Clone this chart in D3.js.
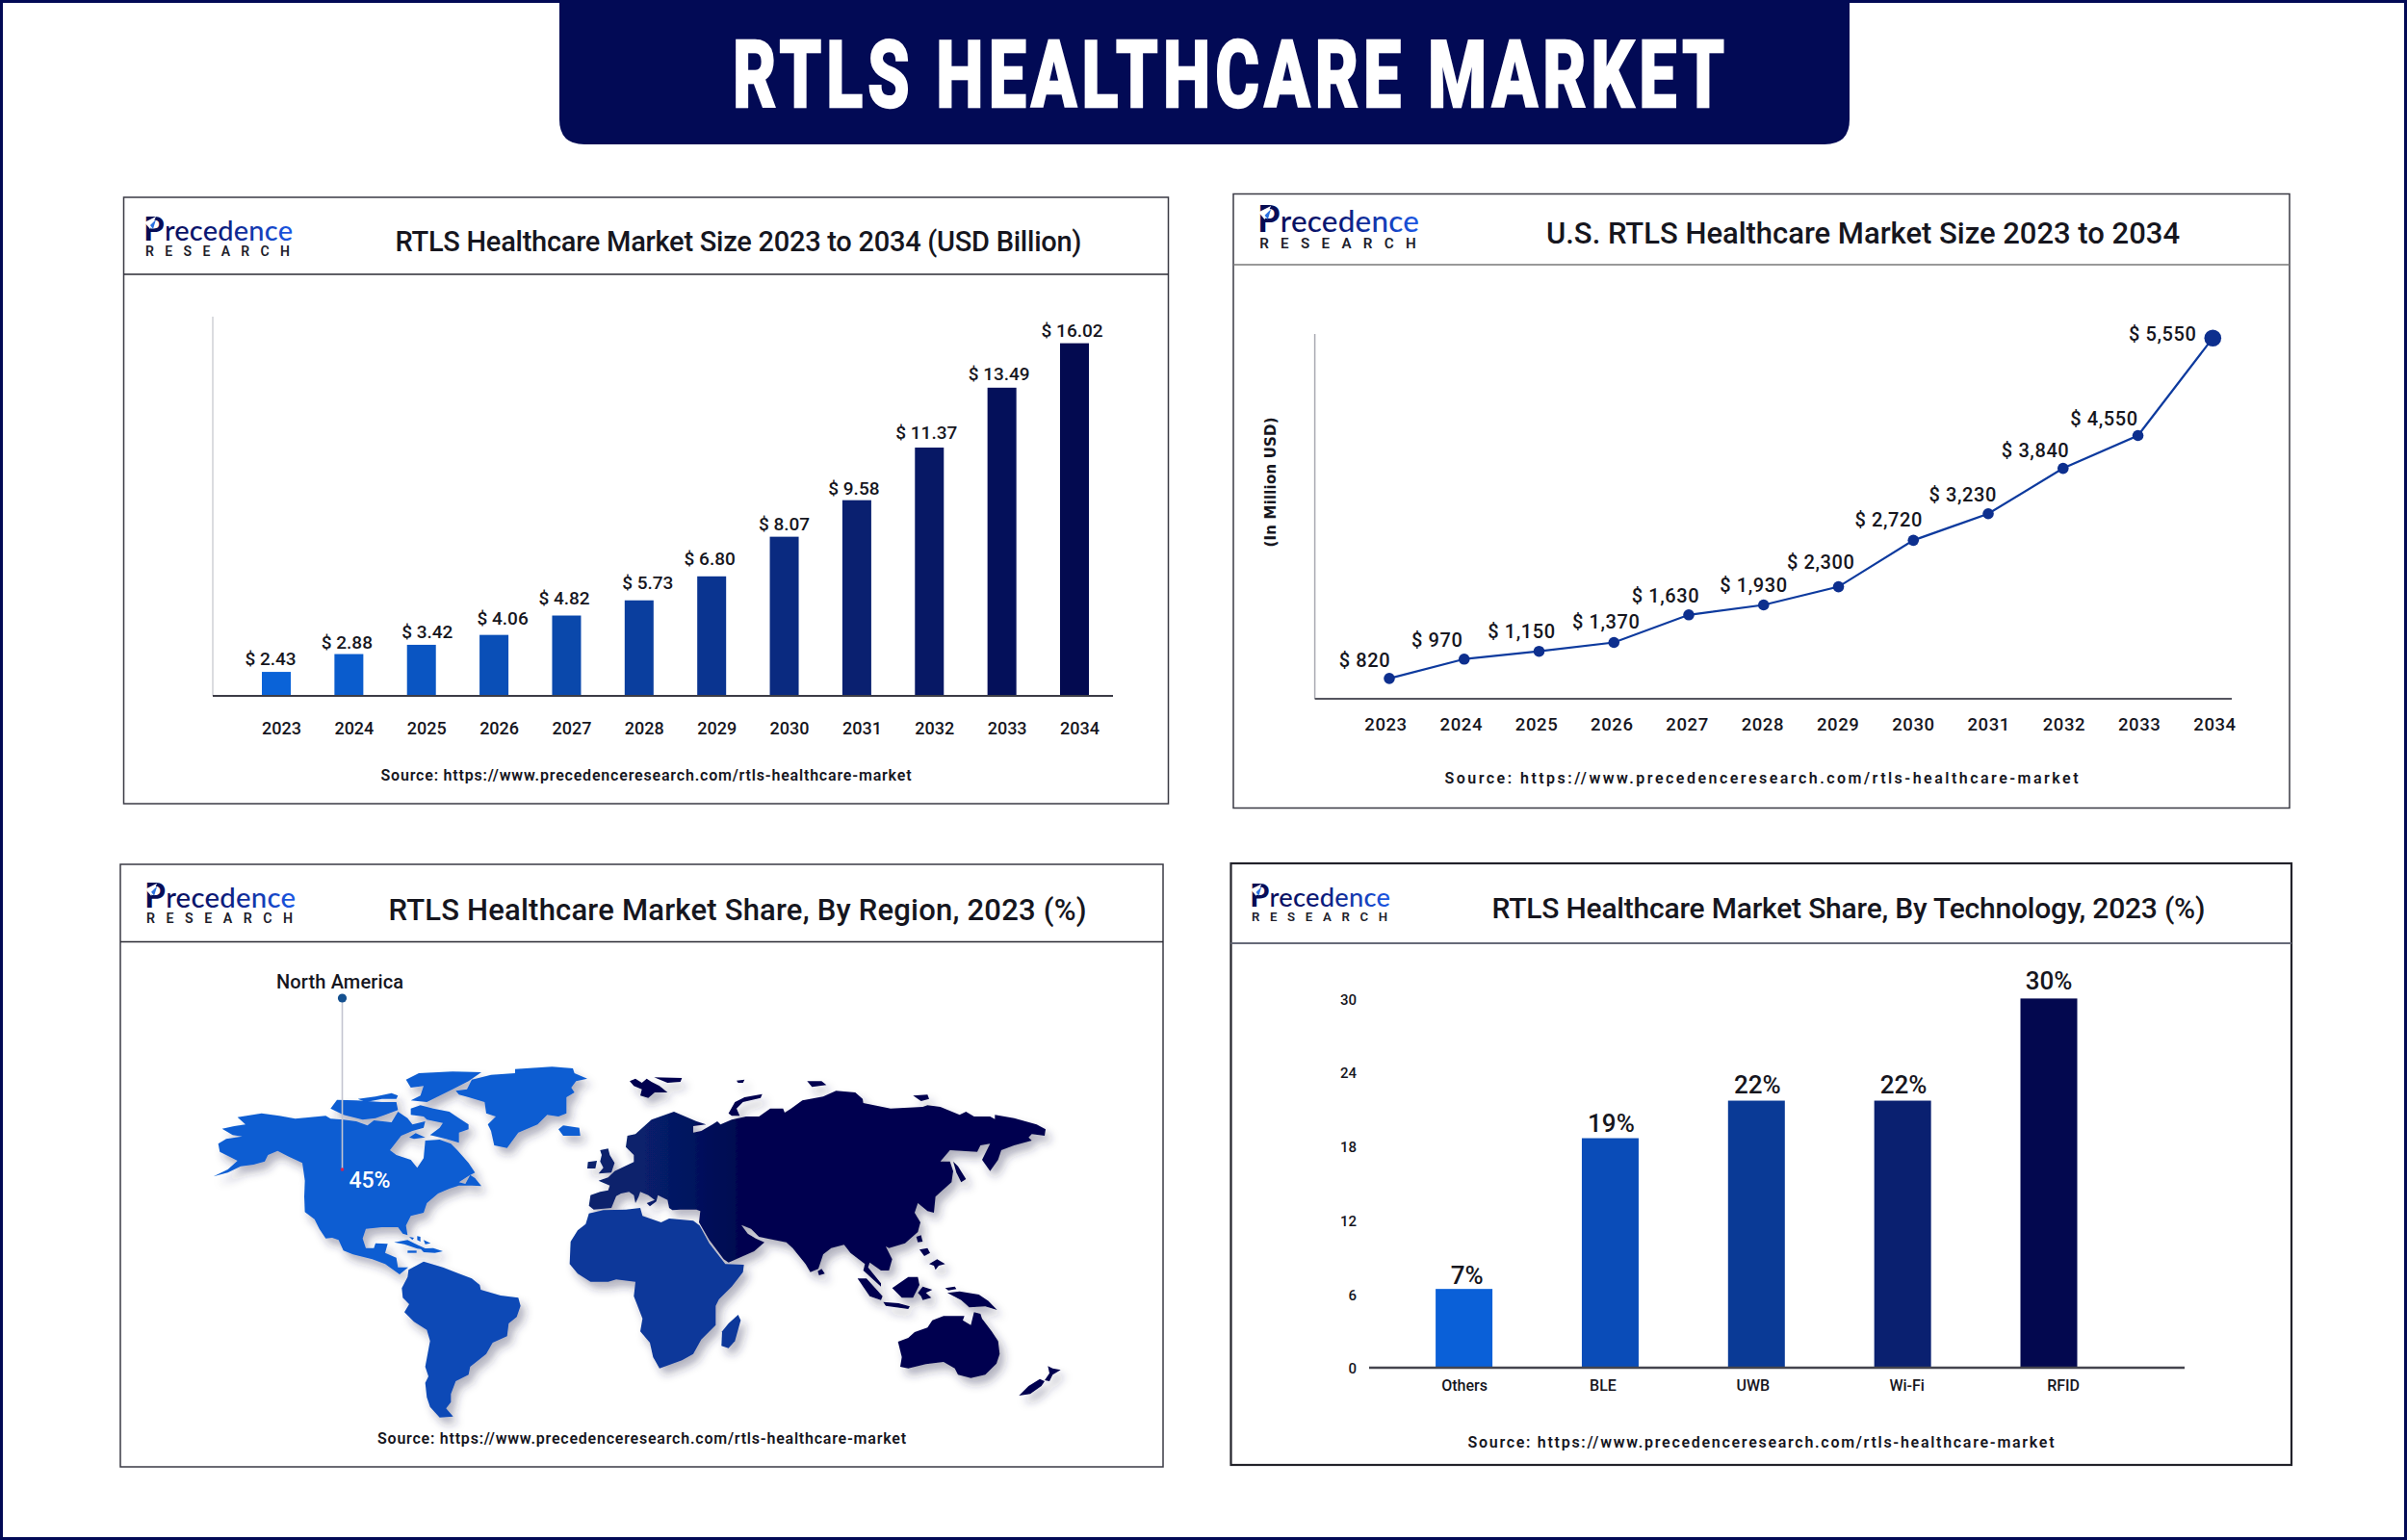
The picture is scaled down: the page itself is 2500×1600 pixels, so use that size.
<!DOCTYPE html>
<html><head><meta charset="utf-8">
<script src="https://cdn.jsdelivr.net/npm/d3@7"></script>
<style>
html,body{margin:0;padding:0;background:#fff}
svg{display:block}
text{font-family:Roboto,Inter,sans-serif;fill:#16161e}
</style></head><body>
<svg id="chart" width="2500" height="1600" viewBox="0 0 2500 1600"></svg>
<script>
// ---------- text ----------
const mainTitle = "RTLS HEALTHCARE MARKET";
const sourceText = "Source: https://www.precedenceresearch.com/rtls-healthcare-market";
const panelTitles = ["RTLS Healthcare Market Size 2023 to 2034 (USD Billion)", "U.S. RTLS Healthcare Market Size 2023 to 2034", "RTLS Healthcare Market Share, By Region, 2023 (%)", "RTLS Healthcare Market Share, By Technology, 2023 (%)"];

// ---------- panel 1: labelled values, and the bar lengths as the picture draws them
// (the reference's bars are not proportional to their printed labels) ----------
const years = [2023,2024,2025,2026,2027,2028,2029,2030,2031,2032,2033,2034];
const marketSizeLabelled = [2.43,2.88,3.42,4.06,4.82,5.73,6.80,8.07,9.58,11.37,13.49,16.02];
const marketSizeDrawn = [1.09,1.90,2.32,2.77,3.65,4.34,5.43,7.23,8.89,11.28,14.0,16.02];

// ---------- panel 2: same idea ----------
const usSizeLabelled = [820,970,1150,1370,1630,1930,2300,2720,3230,3840,4550,5550];
const usSizeDrawn = [313,610,730,866,1291,1444,1724,2438,2847,3545,4050,5550];

// ---------- panel 4 ----------
const techCategories = ["Others","BLE","UWB","Wi-Fi","RFID"];
const techLabelled = [7,19,22,22,30];
const techDrawn = [6.4,18.65,21.7,21.7,30];
const techTicks = [0,6,12,18,24,30];

// ---------- panel 3: region label and coastlines ----------
const regionName = "North America";
const regionShare = 45;
const northAmerica = [[35,367],[80,345],[110,318],[85,305],[55,290],[50,265],[75,250],[125,242],[95,238],[62,218],[100,210],[135,205],[110,182],[185,170],[240,178],[290,187],[330,183],[385,178],[400,187],[440,190],[480,195],[515,208],[535,192],[590,198],[610,165],[640,185],[655,205],[695,195],[690,215],[655,225],[620,240],[585,285],[605,300],[650,315],[670,340],[690,310],[695,255],[740,252],[775,265],[795,285],[830,325],[850,355],[830,365],[800,385],[820,390],[835,362],[850,372],[870,397],[840,395],[800,395],[770,405],[735,420],[700,450],[690,480],[650,490],[635,520],[640,550],[625,545],[610,525],[560,525],[510,530],[500,560],[510,590],[535,590],[540,575],[578,577],[570,605],[605,620],[610,650],[642,650],[615,672],[570,640],[530,625],[470,610],[440,598],[425,565],[405,558],[385,560],[365,530],[350,500],[320,478],[318,430],[320,380],[312,325],[270,305],[235,287],[205,300],[195,320],[160,330],[120,335],[80,355]];
const northIslands = [
 [[400,155],[420,128],[480,130],[560,135],[605,135],[610,160],[570,175],[540,185],[500,190],[440,175]],
 [[485,125],[540,118],[590,107],[610,115],[605,125],[560,125],[510,135]],
 [[650,155],[680,145],[720,155],[770,165],[800,185],[830,205],[830,220],[800,230],[800,262],[760,250],[710,238],[740,215],[750,200],[700,190],[690,180],[650,175]],
 [[635,65],[675,45],[780,40],[870,42],[830,70],[780,95],[730,120],[700,135],[650,130],[680,115],[690,85],[650,90]],
 [[975,32],[1090,25],[1155,30],[1160,45],[1200,62],[1165,70],[1150,90],[1160,105],[1135,120],[1135,170],[1110,180],[1075,175],[1045,205],[985,230],[950,278],[910,270],[900,225],[890,205],[915,180],[885,170],[880,135],[830,120],[800,112],[790,100],[825,95],[840,65],[900,50],[975,45]],
 [[1110,220],[1125,208],[1175,215],[1178,240],[1125,240]],
 [[598,572],[640,565],[670,580],[710,598],[670,592],[630,578]],
 [[640,598],[668,598],[668,605],[640,605]],
 [[680,592],[720,590],[750,600],[725,605],[690,603]],
 [[645,555],[660,558],[655,565]],[[670,553],[680,555],[680,570],[670,565]],[[690,565],[712,575],[695,578]],
 [[645,245],[665,232],[695,245],[660,250]]
];
const southAmerica = [[133,178],[180,152],[205,160],[240,170],[290,190],[330,205],[355,225],[358,240],[420,258],[475,265],[482,290],[470,325],[445,345],[440,385],[395,405],[375,440],[325,480],[320,505],[280,525],[265,565],[265,590],[250,610],[272,635],[230,638],[200,605],[190,575],[185,530],[195,510],[185,480],[200,400],[190,365],[150,340],[120,310],[135,285],[115,265],[112,235],[130,200]];
const africa = [[95,482],[140,472],[210,470],[255,465],[262,490],[320,510],[345,498],[420,505],[440,520],[470,575],[520,640],[578,642],[575,665],[540,710],[500,750],[490,770],[490,830],[445,875],[420,920],[385,940],[315,965],[295,930],[285,885],[255,850],[262,810],[235,740],[240,695],[180,688],[155,695],[100,695],[60,670],[35,640],[38,570],[60,535],[85,515]];
const madagascar = [[560,798],[568,815],[550,880],[530,902],[508,895],[510,850],[530,825]];
const eurasia = [[125,380],[155,370],[175,350],[235,322],[235,300],[210,275],[215,240],[240,235],[290,190],[360,165],[395,180],[430,195],[460,205],[420,210],[420,230],[445,225],[480,205],[495,195],[505,205],[540,190],[585,180],[625,180],[660,155],[700,155],[705,168],[725,155],[760,130],[825,118],[865,100],[925,105],[948,125],[950,138],[1035,155],[1135,150],[1150,145],[1190,150],[1250,175],[1270,165],[1295,180],[1345,180],[1360,188],[1360,175],[1420,185],[1490,205],[1518,220],[1515,240],[1475,235],[1465,245],[1475,255],[1420,270],[1380,285],[1370,315],[1345,350],[1320,315],[1345,265],[1315,270],[1305,290],[1220,285],[1190,320],[1220,320],[1230,350],[1225,385],[1175,430],[1170,480],[1150,475],[1120,450],[1110,480],[1128,510],[1120,540],[1080,575],[1030,590],[1020,585],[1040,625],[1030,660],[1005,660],[970,635],[965,650],[1005,700],[1005,710],[950,660],[955,640],[910,605],[890,580],[850,590],[825,610],[810,655],[785,665],[770,640],[730,590],[710,572],[650,560],[625,555],[600,530],[570,518],[590,545],[615,560],[642,572],[610,600],[530,635],[515,625],[470,565],[438,510],[442,475],[430,470],[380,470],[355,472],[345,465],[340,440],[310,425],[305,445],[285,460],[275,450],[300,440],[280,425],[255,415],[250,430],[240,450],[235,425],[220,415],[195,420],[180,428],[165,465],[110,470],[95,458],[100,425],[130,415],[155,410],[160,395]];
const eurasiaIslands = [
 [[130,285],[155,280],[160,300],[175,325],[165,355],[125,358],[140,340],[130,320],[135,300]],
 [[92,322],[120,318],[115,342],[90,342]],
 [[222,70],[240,62],[260,75],[275,62],[290,72],[315,85],[340,105],[300,105],[280,122],[255,115],[260,95],[235,85]],
 [[298,58],[385,60],[380,72],[340,75]],
 [[555,68],[580,65],[575,75],[560,75]],
 [[530,170],[550,135],[580,120],[635,110],[630,122],[575,135],[555,155],[565,178],[540,178]],
 [[775,70],[820,70],[835,82],[790,88]],
 [[1105,115],[1150,112],[1155,125],[1130,132]],
 [[1230,320],[1245,335],[1270,375],[1255,385],[1240,355]],
 [[1115,555],[1130,550],[1135,570],[1120,572]],
 [[1125,595],[1150,590],[1158,605],[1140,615]],
 [[1155,640],[1180,625],[1205,640],[1185,645],[1175,658],[1170,645]],
 [[808,662],[820,655],[830,670],[812,675]],
 [[932,685],[960,685],[1010,740],[1005,752],[970,740]],
 [[1012,758],[1060,762],[1095,772],[1090,780],[1020,770]],
 [[1040,715],[1090,680],[1120,680],[1125,705],[1105,745],[1070,745]],
 [[1120,730],[1135,710],[1165,720],[1145,730],[1162,745],[1135,752],[1130,740]],
 [[1212,730],[1250,725],[1310,735],[1340,755],[1367,783],[1330,772],[1280,775],[1255,752]],
 [[1205,715],[1235,710],[1240,718],[1215,722]],
 [[1058,882],[1090,870],[1110,852],[1150,838],[1165,815],[1200,802],[1265,802],[1260,815],[1285,830],[1295,790],[1315,795],[1320,810],[1350,850],[1370,880],[1375,920],[1365,950],[1330,985],[1285,995],[1245,985],[1235,965],[1200,945],[1145,952],[1090,965],[1065,960],[1070,930]],
 [[1435,1050],[1465,1020],[1500,998],[1515,1005],[1505,1020],[1470,1045]],
 [[1515,1002],[1530,980],[1525,958],[1540,965],[1565,970],[1540,985],[1530,1005]]
];

// ---------- drawing ----------
const svg = d3.select("#chart");
const defs = svg.append("defs");
const NAVY = "#020a55";

svg.append("rect").attr("x",1.5).attr("y",1.5).attr("width",2497).attr("height",1597)
   .attr("fill","#fff").attr("stroke",NAVY).attr("stroke-width",3);

// banner
const bx0=581,bx1=1921,bh=150,br=26;
svg.append("path").attr("fill",NAVY)
   .attr("d",`M${bx0},0H${bx1}V${bh-br}Q${bx1},${bh} ${bx1-br},${bh}H${bx0+br}Q${bx0},${bh} ${bx0},${bh-br}Z`);
svg.append("text").text(mainTitle).attr("transform","translate(761,111) scale(.72,1)")
   .attr("textLength",1030/.72).attr("font-size",97).attr("font-weight",800)
   .attr("stroke","#fff").attr("stroke-width",2.5)
   .style("fill","#fff");

// logo gradient
const lg = defs.append("linearGradient").attr("id","logoGrad");
[[0,"#050a50"],[.5,"#0a1a78"],[1,"#1b58e6"]].forEach(s=>lg.append("stop").attr("offset",s[0]).attr("stop-color",s[1]));

function logo(x, baseline, w){
  const s = w/155;
  const g = svg.append("g").attr("transform",`translate(${x},${baseline}) scale(${s})`);
  const t = g.append("text").attr("textLength",155).style("font-family","Lato,Roboto,sans-serif").style("fill","url(#logoGrad)").attr("font-weight",500);
  t.append("tspan").text("P").attr("font-size",35).attr("font-weight",700);
  t.append("tspan").text("recedence").attr("font-size",29);
  g.append("path").attr("d","M1,-19 L13,-25 L7,-12 Z").attr("fill","#fff");
  g.append("path").attr("d","M7,-16 L13,-22 L10,-12 Z").attr("fill","#2a6fe0");
  g.append("text").text("RESEARCH").attr("x",2).attr("y",16).attr("textLength",150)
   .attr("font-size",14).attr("font-weight",600).style("fill","#20202a");
}

function panel(o){
  svg.append("rect").attr("x",o.x0).attr("y",o.y0).attr("width",o.x1-o.x0).attr("height",o.y1-o.y0)
     .attr("fill","#fff").attr("stroke",o.border).attr("stroke-width",o.bw);
  svg.append("line").attr("x1",o.x0).attr("x2",o.x1).attr("y1",o.hy).attr("y2",o.hy)
     .attr("stroke",o.hcol).attr("stroke-width",o.hw);
  svg.append("text").text(o.title).attr("x",o.tx).attr("y",o.ty).attr("text-anchor","middle")
     .attr("dominant-baseline","central").attr("font-size",o.tsize).attr("font-weight",500).attr("textLength",o.tw);
  svg.append("text").text(sourceText).attr("x",o.sx).attr("y",o.sy).attr("text-anchor","middle")
     .attr("dominant-baseline","central").attr("font-size",16).attr("font-weight",600).attr("fill","#333").attr("textLength",o.sw);
  logo(o.lx,o.lb,o.lw);
}

panel({x0:128.5,x1:1213.5,y0:205,y1:835,hy:285,border:"#3a3a44",bw:1.5,hcol:"#2a2a33",hw:1.6,title:panelTitles[0],tx:767,ty:251,tsize:29,tw:713,sx:671,sy:805,sw:551,lx:149,lb:250,lw:155});
panel({x0:1281,x1:2378,y0:201.5,y1:839.5,hy:275,border:"#3a3a44",bw:1.5,hcol:"#777",hw:1.6,title:panelTitles[1],tx:1935,ty:242,tsize:31,tw:658,sx:1829.5,sy:808,sw:658,lx:1306,lb:241,lw:168});
panel({x0:125,x1:1208,y0:898,y1:1524,hy:978.5,border:"#3a3a44",bw:1.5,hcol:"#2a2a33",hw:1.6,title:panelTitles[2],tx:766,ty:945,tsize:31,tw:725,sx:666.5,sy:1494.5,sw:549,lx:150,lb:943,lw:157});
panel({x0:1278.5,x1:2380,y0:897,y1:1522,hy:980,border:"#22222a",bw:2.2,hcol:"#666a78",hw:1.8,title:panelTitles[3],tx:1920,ty:943.5,tsize:30,tw:741,sx:1829,sy:1498,sw:609,lx:1298,lb:942,lw:146});

const stripAxis = g => { g.select(".domain").remove(); g.selectAll("line").remove(); };

// ---------- panel 1 ----------
(function(){
  const barW=30;
  const x = d3.scalePoint().domain(years).range([287,1116]);
  const y = d3.scaleLinear().domain([0,16.02]).range([723,356.6]);
  const col = d3.scaleLinear().domain([0,2,4,6,8,10,11]).range(["#0a63d8","#0a55c2","#0a48ab","#0a3490","#0a2070","#04105a","#030a50"]);
  const nudgeX=[-6,-2,6,9,-2.4,9,-2,0,-3,-3,-3,-2.4], nudgeY=[-13.5,-12.5,-13,-17,-18.4,-18,-18.4,-13.5,-12.5,-15.7,-14.6,-13];
  svg.append("line").attr("x1",221).attr("x2",221).attr("y1",329).attr("y2",723).attr("stroke","#cfd0d6").attr("stroke-width",1.5);
  svg.append("g").selectAll("rect").data(marketSizeDrawn).join("rect")
    .attr("x",(d,i)=>x(years[i])-barW/2).attr("width",barW).attr("y",d=>y(d)).attr("height",d=>y(0)-y(d)).attr("fill",(d,i)=>col(i));
  svg.append("line").attr("x1",221).attr("x2",1156).attr("y1",723).attr("y2",723).attr("stroke","#3c3c46").attr("stroke-width",2);
  svg.append("g").selectAll("text").data(marketSizeLabelled).join("text")
    .text(d=>"$ "+d3.format(".2f")(d)).attr("x",(d,i)=>x(years[i])+nudgeX[i]).attr("y",(d,i)=>y(marketSizeDrawn[i])+nudgeY[i])
    .attr("text-anchor","middle").attr("dominant-baseline","central").attr("font-size",19).attr("font-weight",500);
  svg.append("g").attr("transform","translate(5,723)").call(d3.axisBottom(x).tickSize(0).tickPadding(27).tickFormat(d3.format("d"))).call(stripAxis)
    .selectAll("text").attr("font-size",18).attr("font-weight",500).style("font-family","Roboto,sans-serif");
})();

// ---------- panel 2 ----------
(function(){
  const x = d3.scalePoint().domain(years).range([1443,2298.3]);
  const xTicks = d3.scalePoint().domain(years).range([1439,2300]);
  const y = d3.scaleLinear().domain([0,5550]).range([726,351.2]);
  const nudgeX=[-25.5,-28,-18,-8,-24,-10.4,-18.3,-25.5,-26.3,-28.7,-35,-52], nudgeY=[-18.4,-20,-20.6,-21.7,-19.5,-20,-25.5,-21.7,-19.5,-19,-17.9,-4.3];
  svg.append("line").attr("x1",1365.6).attr("x2",1365.6).attr("y1",347).attr("y2",726).attr("stroke","#a9aab2").attr("stroke-width",1.5);
  svg.append("line").attr("x1",1365.6).attr("x2",2318).attr("y1",726).attr("y2",726).attr("stroke","#55555f").attr("stroke-width",2.2);
  svg.append("path").datum(usSizeDrawn).attr("fill","none").attr("stroke","#0d3a9e").attr("stroke-width",2.2)
     .attr("d",d3.line().x((d,i)=>x(years[i])).y(d=>y(d)));
  svg.append("g").selectAll("circle").data(usSizeDrawn).join("circle")
     .attr("cx",(d,i)=>x(years[i])).attr("cy",d=>y(d)).attr("r",(d,i)=>i===11?8.8:5.8).attr("fill","#0d2f8e");
  svg.append("g").selectAll("text").data(usSizeLabelled).join("text")
    .text(d=>"$ "+d3.format(",")(d)).attr("x",(d,i)=>x(years[i])+nudgeX[i]).attr("y",(d,i)=>y(usSizeDrawn[i])+nudgeY[i])
    .attr("text-anchor","middle").attr("dominant-baseline","central").attr("font-size",20).attr("font-weight",500).attr("letter-spacing",.6);
  svg.append("g").attr("transform","translate(0,726)").call(d3.axisBottom(xTicks).tickSize(0).tickPadding(20).tickFormat(d3.format("d"))).call(stripAxis)
    .selectAll("text").attr("font-size",18.5).attr("font-weight",500).attr("letter-spacing",.6).style("font-family","Roboto,sans-serif");
  svg.append("text").text("(In Million USD)").attr("transform","translate(1320,501) rotate(-90)")
    .attr("text-anchor","middle").attr("dominant-baseline","central").attr("font-size",15).attr("font-weight",700).attr("textLength",135)
    .style("font-family","'DejaVu Sans',sans-serif");
})();

// ---------- panel 3 ----------
(function(){
  const f = defs.append("filter").attr("id","mapShadow").attr("x","-20%").attr("y","-20%").attr("width","140%").attr("height","140%");
  f.append("feDropShadow").attr("dx",5).attr("dy",7).attr("stdDeviation",5).attr("flood-color","#2a2a50").attr("flood-opacity",.36);
  const eg = defs.append("linearGradient").attr("id","eurasiaGrad").attr("gradientUnits","userSpaceOnUse").attr("x1",670).attr("x2",770).attr("y1",0).attr("y2",0);
  [[0,"#07206c"],[1,"#03054f"]].forEach(s=>eg.append("stop").attr("offset",s[0]).attr("stop-color",s[1]));

  // each outline was traced in a 3x view of part of the map
  const path = (pts,ox,oy) => {
    const X = d3.scaleLinear().domain([0,3]).range([ox,ox+1]);
    const Y = d3.scaleLinear().domain([0,3]).range([oy,oy+1]);
    return d3.line().x(d=>X(d[0])).y(d=>Y(d[1])).curve(d3.curveLinearClosed)(pts);
  };
  const m = svg.append("g").attr("filter","url(#mapShadow)");
  northIslands.concat([northAmerica]).forEach(s=>m.append("path").attr("d",path(s,210,1100)).attr("fill","#0b5dd2"));
  m.append("path").attr("d",path(southAmerica,380,1260)).attr("fill","#0a49b6");
  m.append("path").attr("d",path(africa,580,1100)).attr("fill","#0a389a");
  m.append("path").attr("d",path(madagascar,580,1100)).attr("fill","#0a389a");
  m.append("path").attr("d",path(eurasia,580,1100)).attr("fill","url(#eurasiaGrad)");
  eurasiaIslands.forEach((s,i)=>m.append("path").attr("d",path(s,580,1100)).attr("fill",i<2?"#08206c":"#03054f"));

  svg.append("line").attr("x1",355.5).attr("x2",355.5).attr("y1",1037).attr("y2",1215).attr("stroke","#c4c5d0").attr("stroke-width",1.6);
  svg.append("circle").attr("cx",355.5).attr("cy",1037).attr("r",4.6).attr("fill","#14508f");
  svg.append("circle").attr("cx",355.5).attr("cy",1215).attr("r",1.8).attr("fill","#d4224e");
  svg.append("text").text(regionName).attr("x",353).attr("y",1020).attr("text-anchor","middle").attr("dominant-baseline","central")
     .attr("font-size",20).attr("font-weight",500).attr("textLength",132);
  svg.append("text").text(regionShare+"%").attr("x",384).attr("y",1226).attr("text-anchor","middle").attr("dominant-baseline","central")
     .attr("font-size",23).attr("font-weight",500).style("fill","#fff");
})();

// ---------- panel 4 ----------
(function(){
  const x = d3.scalePoint().domain(techCategories).range([1520.6,2128]);
  const y = d3.scaleLinear().domain([0,30]).range([1421,1037.4]);
  const barW=59;
  const colors = d3.scaleOrdinal().domain(techCategories).range(["#0a60d8","#0a4cb8","#0a3a96","#0a2070","#03084f"]);
  const tickNudge=[0,-8,-4,4,14.6], valY=[-14,-15.6,-16.4,-17,-18], valX=[3,1,1,1,0];
  svg.append("g").selectAll("rect").data(techDrawn).join("rect")
    .attr("x",(d,i)=>x(techCategories[i])-barW/2).attr("width",barW).attr("y",d=>y(d)).attr("height",d=>y(0)-y(d)).attr("fill",(d,i)=>colors(techCategories[i]));
  svg.append("line").attr("x1",1422).attr("x2",2269).attr("y1",1421).attr("y2",1421).attr("stroke","#44444e").attr("stroke-width",2.6);
  svg.append("g").selectAll("text").data(techLabelled).join("text")
    .text(d=>d+"%").attr("x",(d,i)=>x(techCategories[i])+valX[i]).attr("y",(d,i)=>y(techDrawn[i])+valY[i])
    .attr("text-anchor","middle").attr("dominant-baseline","central").attr("font-size",26).attr("font-weight",500);
  svg.append("g").attr("transform","translate(1409,1)").call(d3.axisLeft(y).tickValues(techTicks).tickSize(0).tickPadding(0)).call(stripAxis)
    .selectAll("text").attr("font-size",15).attr("font-weight",500).style("font-family","Roboto,sans-serif");
  const gx = svg.append("g").attr("transform","translate(0,1421)").call(d3.axisBottom(x).tickSize(0).tickPadding(13)).call(stripAxis);
  gx.selectAll("text").attr("font-size",16).attr("font-weight",500).style("font-family","Roboto,sans-serif")
    .attr("dx",(d,i)=>tickNudge[i]);
})();
</script>
</body></html>
